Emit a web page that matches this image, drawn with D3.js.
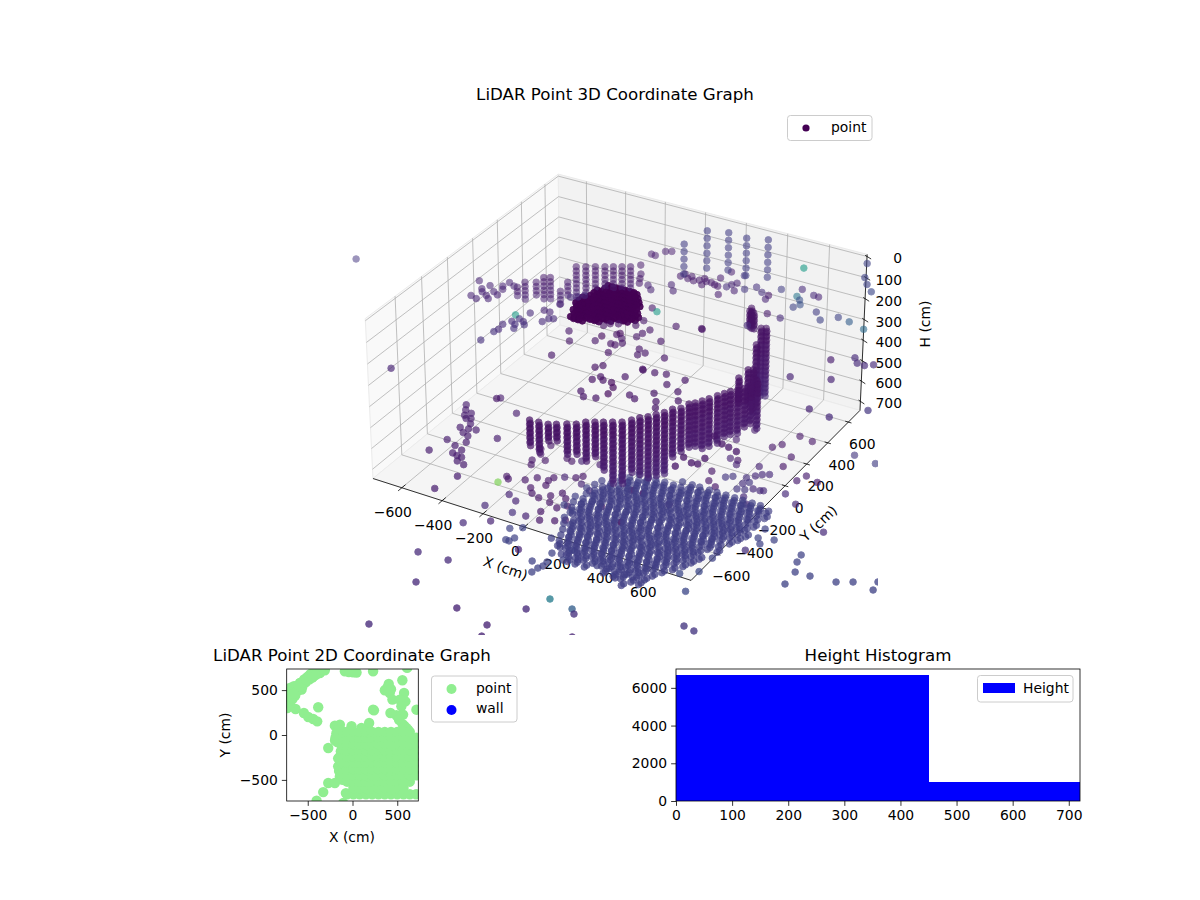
<!DOCTYPE html>
<html><head><meta charset="utf-8">
<script src="https://cdn.jsdelivr.net/npm/d3@7"></script>
<style>html,body{margin:0;background:#fff}svg{display:block}text{font-family:"DejaVu Sans",sans-serif;fill:#000}</style>
</head><body><svg id="c" width="1200" height="900"></svg>
<script>
// ---------- axis ranges and tick labels ----------
const xLim=[-745,777], yLim=[-820,715], hLim=[745,-10];
const xTicks=[-600,-400,-200,0,200,400,600], yTicks=[-600,-400,-200,0,200,400,600], hTicks=[0,100,200,300,400,500,600,700];
const planTicks=[-500,0,500], histXTicks=[0,100,200,300,400,500,600,700], histYTicks=[0,2000,4000,6000];
// ---------- histogram ----------
const histEdges=[0,450,720], histCounts=[6700,1000];
// ---------- vertical scan rings (cm) ----------
const wallRings=[310,331,352,373,394,415,436,457,478,499,520,541,562,583,604,625];
const wallRingTone=[.05,.05,.05,.06,.06,.06,.07,.07,.07,.08,.08,.09,.09,.1,.1,.11];
// back wall columns
const backColX=[-543,-506,-470,-433,-401,-368,-335,-563,-589,-611,-636,-684,-727,-753];
const backColY=[525,546,568,589,608,627,646,484,463,415,400,414,389,366];
const backColFirst=[0,0,0,0,0,0,0,3,5,1,1,3,3,4];
const backColCount=[12,12,12,12,12,12,12,4,4,6,6,4,5,3];
// front arc columns
const arcColX=[-35,6,47,76,112,145,170,202,232,264,297,322,342,367,387,408,424,450,462,480,497,513,531,547,561,582,599,609,617,539,541,559,472,423,442,305,333,311];
const arcColY=[-709,-705,-700,-683,-661,-642,-609,-590,-573,-554,-535,-501,-469,-445,-413,-382,-342,-318,-272,-252,-223,-193,-154,-124,-97,-74,-45,-10,34,18,98,109,303,441,451,578,545,551];
const arcColCount=[6,7,4,4,7,7,9,8,11,14,14,12,13,14,14,14,11,10,10,10,11,11,11,10,10,10,9,9,11,6,8,10,14,16,16,5,4,4];
// second return of each arc column
const arcEchoOffset=[7,-7,9];
// far columns
const farRings=[52,88,124,160,196,232];
const farColX=[32,121,212,300,-28], farColY=[673,704,698,731,575], farColFirst=[0,0,0,0,1];
// dense back cluster, rows of returns
const clusterXs=[-490,-468,-446,-424,-402,-380,-358,-336,-314,-292,-270,-248,-226,-204,-182];
const clusterRowY=[310,340,370,400,430,460,490,520,550,580,610,640];
const clusterFrom=[-436,-445,-458,-472,-480,-482,-482,-478,-470,-460,-450,-438];
const clusterTo=[-400,-345,-285,-225,-195,-208,-224,-240,-255,-270,-290,-305];
// floor returns, rows, three scan layers
const floorLayers=[723,698,676];
const floorLayerDX=[0,21,-12], floorLayerDY=[0,-17,-28];
const floorXs=[100,141,178,222,259,303,338,381,422,457,503,538,584,619,661,702,739,783,821,862];
const floorRowY=[-260,-300,-340,-380,-420,-460,-500,-540,-580,-620,-660,-700,-740,-780,-820,-860,-900,-940,-980,-980,-1020];
const floorFrom=[425,233,206,179,152,125,115,120,127,131,137,142,162,170,185,200,215,235,266,450,540];
const floorTo=[832,840,848,855,850,845,830,815,800,790,776,763,748,732,715,698,680,650,400,625,600];
const floorShift=[0,14,-9,6,-15,11,-4,17,-12,3,-18,9,-6,15,-10,5,-16,12,-3,8,-13];
// scattered returns at h=310
const upperX=[-94,-57,-63,-32,-12,1,17,20,44,66,84,59,74,122,166,144,130,120,139,199,235,277,315,319,338,417,426,451,472,456,485,510,562,608,665,723,805,452,386,360,
-314,-293,-272,-248,-304,-262,-245,-226,-184,-153,-98,-64,-102,-67,-33,-43,-52,7,20,0,108,101,205,210,62,80,100,191,158,163,126,216,264,307,355,296,375,216,249,336,359,412,801,881,909,944,974,875,718,905,1004,1117,
-845,-780,-796,-780,-804,-769,-747,-724,-707,-736,-729,-714,-721,-687,-429,-421,-394,-377,
-545,-499,-460,-430,-386,-404,-415,-485,-467,-513,-529,-503,-489,-549,-541,-548,-557,-753,-274,-228,-231,-135,-131,-65,-44,-83,-75,-25,-48,-36,0,-22,19,38,61,101,127,27,59,109,135,-241,-171,-154,-123,-1427,
690,716,720,672,727,762,804,643,647];
const upperY=[709,703,677,672,690,714,658,694,696,686,681,754,828,615,680,748,724,695,826,715,759,728,718,681,795,841,772,748,711,677,817,814,688,633,693,681,653,562,569,434,
798,795,852,866,683,610,571,532,535,505,591,545,681,364,345,247,194,147,189,109,127,273,310,306,22,-24,5,9,-119,-124,-210,-119,-106,-179,-110,-268,-208,-331,-347,-323,-369,-272,347,413,377,374,399,200,135,-60,-77,50,
199,184,142,119,66,53,100,79,128,145,208,183,251,233,192,270,288,315,
14,60,112,110,67,57,21,-20,-42,-7,-42,-59,-91,-84,-131,-158,-248,-640,8,-66,-208,-9,40,2,2,84,99,30,65,-69,-176,-204,-298,-261,-281,-280,-312,-404,-438,-422,-367,-630,124,151,168,96,
-669,-664,-612,-443,-481,-490,-504,-647,-723];
const upperTone=[.07,.07,.07,.07,.07,.07,.07,.07,.07,.07,.07,.08,.08,.08,.09,.09,.1,.13,.16,.16,.14,.14,.07,.1,.18,.12,.4,.25,.25,.2,.12,.1,.18,.2,.2,.3,.35,.12,.07,.12,
.08,.08,.08,.08,.07,.07,.07,.07,.1,.1,.1,.1,.07,.07,.55,.06,.06,.06,.06,.06,.06,.06,.05,.05,.06,.06,.06,.06,.05,.05,.06,.06,.06,.06,.06,.06,.06,.06,.06,.06,.06,.06,.08,.12,.12,.12,.12,.1,.1,.1,.12,.16,
.1,.1,.1,.1,.1,.1,.1,.1,.1,.1,.1,.1,.1,.1,.1,.12,.12,.12,
.55,.12,.1,.1,.12,.12,.12,.12,.14,.14,.12,.14,.14,.12,.12,.14,.14,.1,.06,.06,.06,.06,.03,.05,.05,.05,.03,.06,.06,.05,.05,.05,.05,.05,.05,.03,.03,.06,.06,.06,.03,.06,.05,.05,.05,.16,
.06,.06,.06,.06,.06,.06,.06,.06,.06];
// scattered returns at h=104
const topX=[506,722,769,804,848], topY=[666,840,720,669,619], topTone=[.55,.2,.2,.2,.22];
// scattered returns at h=517
const midX=[-517,-496,-477,-457,-440,-407,-375,-461,-439,-418,-403,-371,-434,-354,-453,-380,-357,-337,-331,-307,-307,-269,-243,-272,-421,-297,-259];
const midY=[-437,-474,-513,-533,-606,-635,-649,-486,-523,-560,-599,-591,-716,-695,-824,-740,-794,-757,-802,-805,-838,-849,-937,-1062,-316,-390,-604];
// scattered returns at h=723
const lowX=[-257,-249,-233,-168,-166,-116,-208,-82,-20,-215,-125,-28,15,2,18,26,84,
-209,-225,-239,-175,-218,-217,-133,-81,-73,-71,-116,-89,-47,-12,11,-36,20,54,88,101,136,15,45,58,7,27,52,108,-39,-104,-75,42,
666,731,605,631,711,716,835,817,897,823,896,493,539,528,629,650,670,696,624,632,546,570,631,662,652,689,720,733,684,720,474,499,545,475,443,936,1042,877,880,1090,811,730,790,790,
213,341,256,312,446];
const lowY=[-610,-553,-567,-538,-669,-698,-791,-780,-776,-948,-880,-888,-857,-968,-969,-939,-1004,
-422,-388,-293,-363,-329,-247,-498,-494,-463,-531,-579,-613,-629,-591,-637,-436,-549,-579,-624,-747,-721,-715,-774,-658,-417,-392,-448,-476,-290,-302,-312,-276,
355,343,216,256,185,100,81,28,59,-88,-138,46,14,47,49,-26,-2,14,-57,-106,-97,-76,-155,-144,-84,-121,-119,-112,-196,-240,-84,-157,-186,303,194,333,316,-548,-442,-270,-928,-829,-778,-666,
-558,-620,-386,-383,-404];
const lowTone=[.8,.06,.06,.06,.1,.1,.12,.14,.1,.12,.1,.2,.2,.2,.2,.2,.1,
.06,.06,.06,.06,.06,.06,.06,.06,.06,.06,.06,.06,.06,.06,.06,.1,.06,.06,.06,.06,.06,.06,.06,.06,.06,.06,.1,.12,.1,.06,.06,.08,
.06,.06,.06,.06,.06,.06,.08,.08,.08,.12,.12,.1,.1,.06,.1,.12,.12,.12,.14,.14,.16,.16,.16,.16,.16,.12,.12,.12,.12,.12,.06,.06,.06,.08,.08,.16,.18,.14,.2,.12,.22,.22,.22,.2,
.05,.05,.05,.05,.05];
// outlying returns at h=700
const outerX=[-236,-100,-125,112,349,394,504,528,-123,275,297,601,937,986,1103,1112,1138,1202,1142,1310,1368,1453,1461,890,959,923,194,234,240,250,249,233,297,291];
const outerY=[-1252,-1241,-1437,-1509,-1379,-1273,-1289,-1315,-1773,-1548,-1622,-1452,-1171,-1181,-498,-552,-620,-616,-716,-602,-568,-518,-579,-401,-455,-510,-1078,-1146,-1110,-1087,-1054,-989,-1010,-930];
const outerTone=[.12,.12,.12,.1,.12,.42,.3,.14,.12,.1,.1,.1,.16,.16,.2,.2,.2,.2,.2,.2,.2,.2,.2,.2,.2,.2,.2,.2,.2,.2,.2,.2,.2,.2];
// plan view returns
const planX=[-699,-662,-699,-729,-624,-569,-587,-513,-439,-364,-309,-476,-643,-636,-543,-494,-439,-394,-383,-85,7,230,610,405,361,416,446,557,576,591,528,546,565,714,230,240,424,186,-197,-141,-11,100,-160,-195,-271,-141,-160,-141,-271,-197,-327,-401,-104,-74,
-700,-670,-640,-600,-560,-520,-480,-440,-400,-360,-700,-720,-720,-660,-680,-620,-580,-540,-500,-460,-420,-380,-660,-40,45,
490,510,520,560,580,600,620,390,430,
-160,-110,-180,-190,-170,-120,-180,-100,-100,-130,-140,-160,-150,-130,-110,-100,
-640,-600,-560,-520,-480,-680,-710,-660,-450,-410];
const planY=[524,450,394,301,505,505,580,636,654,691,721,673,543,290,245,201,178,152,309,710,699,710,747,569,498,468,394,610,468,375,394,320,227,282,282,275,245,134,104,115,97,78,0,-60,-145,-238,-349,-461,-535,-535,-636,-732,-758,-647,
340,400,440,500,540,590,620,650,680,700,450,420,360,500,480,540,580,620,650,680,700,730,540,700,695,
220,200,170,120,100,80,60,530,510,
60,40,20,-30,-80,-120,-40,-20,-80,-180,-280,-260,-400,-440,-500,-320,
480,540,580,620,650,420,480,460,640,670];
const planGridX=[-60,10,80,150,220,290,360,430,500,570,640,710];
const planGridY=[-660,-590,-520,-450,-380,-310,-240,-170,-100,-30,35];
const planGapX=[710,710,640,710,-60], planGapY=[-590,-520,-590,35,-590];

// ---------- 3D projection, elevation 30, azimuth -60 ----------
const wx=d3.scaleLinear().domain(xLim).range([-.595,.595]);
const wy=d3.scaleLinear().domain(yLim).range([-.595,.595]);
const wh=d3.scaleLinear().domain(hLim).range([-.30,.30]);
const sx=d3.scaleLinear().domain([-.1,.1]).range([317,925]);
const sy=d3.scaleLinear().domain([-.1,.1]).range([670,62]);
function project(x,y,h){
  const X=wx(x),Y=wy(y),Z=wh(h);
  const a=.866*X+.5*Y,b=-.25*X+.433*Y+.866*Z,c=.433*X-.75*Y+.5*Z,k=1/(10-c);
  return [sx(a*k),sy(b*k),c];
}
const svg=d3.select("#c");
const [x0,x1]=xLim,[y0,y1]=yLim,[hb,ht]=hLim;
const path3=pts=>d3.line()(pts.map(p=>project(...p).slice(0,2)));
const pane=(pts,fill)=>svg.append("path").attr("d",path3(pts)+"Z").attr("fill",fill).attr("stroke","#ebebeb").attr("stroke-width",1);
pane([[x0,y0,hb],[x0,y1,hb],[x0,y1,ht],[x0,y0,ht]],"#f9f9f9");
pane([[x0,y1,hb],[x1,y1,hb],[x1,y1,ht],[x0,y1,ht]],"#f2f2f2");
pane([[x0,y0,hb],[x1,y0,hb],[x1,y1,hb],[x0,y1,hb]],"#f5f5f5");
const grid=pts=>svg.append("path").attr("d",path3(pts)).attr("fill","none").attr("stroke","#b0b0b0").attr("stroke-width",.8);
xTicks.forEach(v=>grid([[v,y0,hb],[v,y1,hb],[v,y1,ht]]));
yTicks.forEach(v=>grid([[x1,v,hb],[x0,v,hb],[x0,v,ht]]));
hTicks.forEach(v=>grid([[x0,y0,v],[x0,y1,v],[x1,y1,v]]));
const black=pts=>svg.append("path").attr("d",path3(pts)).attr("fill","none").attr("stroke","#000").attr("stroke-width",.8);
black([[x0,y0,hb],[x1,y0,hb]]);black([[x1,y0,hb],[x1,y1,hb]]);black([[x1,y1,hb],[x1,y1,ht]]);
const T=(x,y,s,o={})=>{const t=svg.append("text").attr("x",x).attr("y",y).attr("font-size",o.size||13.9).attr("text-anchor",o.anchor||"middle").text(s);
  if(o.rot!==undefined)t.attr("transform",`rotate(${o.rot} ${x} ${y})`);return t;};
const fmt=v=>String(v).replace("-","\u2212");
xTicks.forEach(v=>{black([[v,y0-28,hb],[v,y0+28,hb]]);const p=project(v,y0,hb);T(p[0]-9,p[1]+29,fmt(v));});
yTicks.forEach(v=>{black([[x1-15,v,hb],[x1+15,v,hb]]);const p=project(x1,v,hb);T(p[0]+14,p[1]+27,fmt(v));});
hTicks.forEach(v=>{black([[x1,y1,v],[x1+25,y1-12,v]]);black([[x1-12,y1+6,v],[x1,y1,v]]);const p=project(x1,y1,v);T(902,p[1]+7,fmt(v),{anchor:"end"});});
T(504,573,"X (cm)",{rot:19});
T(822,527,"Y (cm)",{rot:-44});
T(930,324,"H (cm)",{rot:-90});
T(615,100,"LiDAR Point 3D Coordinate Graph",{size:16.67});

// ---------- collect 3D returns ----------
const pts=[];
const add=(x,y,h,t)=>{const p=project(x,y,h);pts.push({sx:p[0],sy:p[1],depth:p[2],tone:t});};
backColX.forEach((x,i)=>{for(let k=0;k<backColCount[i];k++){const r=backColFirst[i]+k;add(x,backColY[i],wallRings[r],wallRingTone[r]+.02);}});
arcColX.forEach((x,i)=>{for(let k=0;k<arcColCount[i];k++){add(x,arcColY[i],wallRings[k],wallRingTone[k]);add(x+arcEchoOffset[0],arcColY[i]+arcEchoOffset[1],wallRings[k]+arcEchoOffset[2],wallRingTone[k]);}});
farColX.forEach((x,i)=>farRings.slice(farColFirst[i]).forEach(h=>add(x,farColY[i],h,.18)));
clusterRowY.forEach((y,i)=>clusterXs.filter(x=>x>=clusterFrom[i]-11&&x<=clusterTo[i]+11).forEach(x=>{add(x,y,430,0);add(x+9,y+11,442,0);}));
floorLayers.forEach((h,L)=>floorRowY.forEach((y,i)=>floorXs.filter(x=>x>=floorFrom[i]&&x<=floorTo[i]).forEach(x=>add(x+floorShift[i]+floorLayerDX[L],y+floorLayerDY[L],h,.19))));
upperX.forEach((x,i)=>add(x,upperY[i],310,upperTone[i]));
topX.forEach((x,i)=>add(x,topY[i],104,topTone[i]));
midX.forEach((x,i)=>add(x,midY[i],517,.08));
lowX.forEach((x,i)=>add(x,lowY[i],723,lowTone[i]));
outerX.forEach((x,i)=>add(x,outerY[i],700,outerTone[i]));
pts.sort((a,b)=>a.depth-b.depth);
const toneColor=d3.scaleSequential(d3.interpolateViridis).domain([0,1]);
const depthAlpha=d3.scaleLinear().domain([-.7,.7]).range([.5,.78]).clamp(true);
svg.append("clipPath").attr("id","cl").append("rect").attr("x",352).attr("y",108).attr("width",526).attr("height",527);
svg.append("g").attr("clip-path","url(#cl)").selectAll("circle").data(pts).join("circle")
  .attr("cx",d=>d.sx).attr("cy",d=>d.sy).attr("r",3.3)
  .attr("fill",d=>toneColor(d.tone)).attr("stroke",d=>toneColor(d.tone)).attr("stroke-width",.9)
  .attr("opacity",d=>d.tone===0?.92:depthAlpha(d.depth));
// 3D legend
const box=(x,y,w,h)=>svg.append("rect").attr("x",x).attr("y",y).attr("width",w).attr("height",h).attr("rx",3).attr("fill","#fff").attr("fill-opacity",.8).attr("stroke","#ccc").attr("stroke-width",1);
box(787.5,115.5,84.5,25);
svg.append("circle").attr("cx",806).attr("cy",128).attr("r",3.6).attr("fill",toneColor(0));
T(831,132,"point",{anchor:"start"});

// ---------- axes helper ----------
function style(g){g.selectAll("path,line").attr("stroke","#000").attr("stroke-width",.8);g.selectAll("text").attr("font-size",13.9).attr("font-family","DejaVu Sans").attr("fill","#000");g.select(".domain").remove();}
const frame=(x,y,w,h)=>svg.append("rect").attr("x",x).attr("y",y).attr("width",w).attr("height",h).attr("fill","none").attr("stroke","#000").attr("stroke-width",.8);

// ---------- plan view ----------
const px=d3.scaleLinear().domain([-735,735]).range([286.7,418.3]);
const py=d3.scaleLinear().domain([-735,735]).range([801,669]);
svg.append("clipPath").attr("id","cp").append("rect").attr("x",286.7).attr("y",669).attr("width",131.6).attr("height",132);
const gp=svg.append("g").attr("clip-path","url(#cp)");
const isGap=d=>planGapX.some((x,i)=>x===d[0]&&planGapY[i]===d[1]);
const planAll=planX.map((x,i)=>[x,planY[i]]).concat(d3.cross(planGridX,planGridY).filter(d=>!isGap(d)));
gp.selectAll("circle").data(planAll).join("circle").attr("cx",d=>px(d[0])).attr("cy",d=>py(d[1])).attr("r",5.2).attr("fill","#90ee90");
svg.append("g").attr("transform","translate(0,801)").call(d3.axisBottom(px).tickValues(planTicks).tickFormat(fmt).tickSize(4.86).tickPadding(4)).call(style);
svg.append("g").attr("transform","translate(286.7,0)").call(d3.axisLeft(py).tickValues(planTicks).tickFormat(fmt).tickSize(4.86).tickPadding(4)).call(style);
frame(286.7,669,131.6,132);
T(352,661,"LiDAR Point 2D Coordinate Graph",{size:16.67});
T(352,842,"X (cm)");
T(230,735,"Y (cm)",{rot:-90});
box(431.5,676,85.5,46);
svg.append("circle").attr("cx",451.5).attr("cy",689).attr("r",5).attr("fill","#90ee90");
svg.append("circle").attr("cx",451.5).attr("cy",710).attr("r",5).attr("fill","#0000ff");
T(476,693,"point",{anchor:"start"});
T(476,713,"wall",{anchor:"start"});

// ---------- histogram ----------
const hx=d3.scaleLinear().domain([0,720]).range([676,1080]);
const hy=d3.scaleLinear().domain([0,7000]).range([801,669]);
svg.selectAll("rect.bar").data(histCounts).join("rect").attr("class","bar").attr("shape-rendering","crispEdges")
  .attr("x",(d,i)=>hx(histEdges[i])).attr("width",(d,i)=>hx(histEdges[i+1])-hx(histEdges[i]))
  .attr("y",d=>hy(d)).attr("height",d=>hy(0)-hy(d)).attr("fill","#0000ff");
svg.append("g").attr("transform","translate(0,801)").call(d3.axisBottom(hx).tickValues(histXTicks).tickFormat(d3.format("d")).tickSize(4.86).tickPadding(4)).call(style);
svg.append("g").attr("transform","translate(676,0)").call(d3.axisLeft(hy).tickValues(histYTicks).tickFormat(d3.format("d")).tickSize(4.86).tickPadding(4)).call(style);
frame(676,669,404,132);
T(878,661,"Height Histogram",{size:16.67});
box(977.5,675.5,95.5,26.5);
svg.append("rect").attr("x",983).attr("y",683).attr("width",32).attr("height",10).attr("fill","#0000ff");
T(1023,693,"Height",{anchor:"start"});
</script></body></html>
